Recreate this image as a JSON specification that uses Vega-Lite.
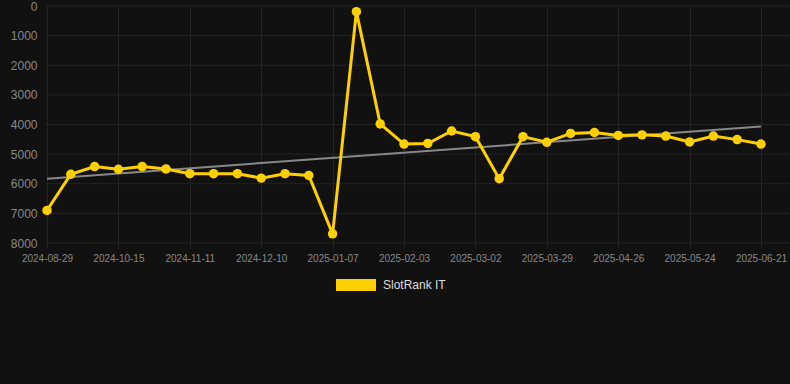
{
  "$schema": "https://vega.github.io/schema/vega-lite/v6.json",
  "autosize": "none",
  "width": 745,
  "height": 237,
  "padding": {"left": 45, "top": 6, "right": 0, "bottom": 141},
  "background": "#111111",
  "config": {
    "view": {"stroke": null},
    "font": "Liberation Sans",
    "axis": {"labelFont": "Liberation Sans", "gridColor": "#242424", "gridWidth": 1, "domain": false}
  },
  "datasets": {
    "rank": [
      {"date": "2024-08-29", "rank": 6900, "series": "SlotRank IT"},
      {"date": "2024-09-14", "rank": 5680, "series": "SlotRank IT"},
      {"date": "2024-09-30", "rank": 5420, "series": "SlotRank IT"},
      {"date": "2024-10-15", "rank": 5510, "series": "SlotRank IT"},
      {"date": "2024-10-24", "rank": 5420, "series": "SlotRank IT"},
      {"date": "2024-11-02", "rank": 5500, "series": "SlotRank IT"},
      {"date": "2024-11-11", "rank": 5660, "series": "SlotRank IT"},
      {"date": "2024-11-21", "rank": 5660, "series": "SlotRank IT"},
      {"date": "2024-11-30", "rank": 5660, "series": "SlotRank IT"},
      {"date": "2024-12-10", "rank": 5810, "series": "SlotRank IT"},
      {"date": "2024-12-19", "rank": 5660, "series": "SlotRank IT"},
      {"date": "2024-12-28", "rank": 5720, "series": "SlotRank IT"},
      {"date": "2025-01-07", "rank": 7690, "series": "SlotRank IT"},
      {"date": "2025-01-16", "rank": 190, "series": "SlotRank IT"},
      {"date": "2025-01-25", "rank": 3980, "series": "SlotRank IT"},
      {"date": "2025-02-03", "rank": 4660, "series": "SlotRank IT"},
      {"date": "2025-02-12", "rank": 4640, "series": "SlotRank IT"},
      {"date": "2025-02-21", "rank": 4220, "series": "SlotRank IT"},
      {"date": "2025-03-02", "rank": 4410, "series": "SlotRank IT"},
      {"date": "2025-03-11", "rank": 5830, "series": "SlotRank IT"},
      {"date": "2025-03-20", "rank": 4410, "series": "SlotRank IT"},
      {"date": "2025-03-29", "rank": 4600, "series": "SlotRank IT"},
      {"date": "2025-04-07", "rank": 4300, "series": "SlotRank IT"},
      {"date": "2025-04-17", "rank": 4270, "series": "SlotRank IT"},
      {"date": "2025-04-26", "rank": 4370, "series": "SlotRank IT"},
      {"date": "2025-05-05", "rank": 4350, "series": "SlotRank IT"},
      {"date": "2025-05-15", "rank": 4390, "series": "SlotRank IT"},
      {"date": "2025-05-24", "rank": 4590, "series": "SlotRank IT"},
      {"date": "2025-06-02", "rank": 4390, "series": "SlotRank IT"},
      {"date": "2025-06-12", "rank": 4510, "series": "SlotRank IT"},
      {"date": "2025-06-21", "rank": 4660, "series": "SlotRank IT"}
    ],
    "trend": [
      {"date": "2024-08-29", "trend": 5830},
      {"date": "2025-06-21", "trend": 4070}
    ],
    "grid": [
      {"level": 0}, {"level": 1000}, {"level": 2000}, {"level": 3000}, {"level": 4000},
      {"level": 5000}, {"level": 6000}, {"level": 7000}, {"level": 8000}
    ]
  },
  "layer": [
    {
      "data": {"name": "grid"},
      "mark": {"type": "rule", "color": "#242424", "strokeWidth": 1},
      "encoding": {
        "y": {
          "field": "level", "type": "quantitative",
          "scale": {"domain": [0, 8000], "reverse": true},
          "axis": {"title": null, "format": "d", "values": [0,1000,2000,3000,4000,5000,6000,7000,8000], "labelColor": "#888888", "labelFontSize": 12, "ticks": false, "labelPadding": 8, "grid": false, "labelOverlap": false}
        }
      }
    },
    {
      "data": {"name": "trend"},
      "mark": {"type": "line", "color": "#888888", "strokeWidth": 2},
      "encoding": {
        "x": {
          "field": "date", "type": "ordinal", "sort": null,
          "scale": {
            "type": "point", "range": [2, 716], "padding": 0,
            "domain": ["2024-08-29","2024-09-14","2024-09-30","2024-10-15","2024-10-24","2024-11-02","2024-11-11","2024-11-21","2024-11-30","2024-12-10","2024-12-19","2024-12-28","2025-01-07","2025-01-16","2025-01-25","2025-02-03","2025-02-12","2025-02-21","2025-03-02","2025-03-11","2025-03-20","2025-03-29","2025-04-07","2025-04-17","2025-04-26","2025-05-05","2025-05-15","2025-05-24","2025-06-02","2025-06-12","2025-06-21"]
          },
          "axis": {
            "title": null, "labelAngle": 0,
            "values": ["2024-08-29", "2024-10-15", "2024-11-11", "2024-12-10", "2025-01-07", "2025-02-03", "2025-03-02", "2025-03-29", "2025-04-26", "2025-05-24", "2025-06-21"],
            "labelColor": "#888888", "labelFontSize": 10, "tickColor": "#242424", "tickSize": 5, "labelPadding": 5, "grid": true, "labelOverlap": false
          }
        },
        "y": {
          "field": "trend", "type": "quantitative",
          "scale": {"domain": [0, 8000], "reverse": true},
          "axis": {"title": null, "format": "d", "values": [0,1000,2000,3000,4000,5000,6000,7000,8000], "labelColor": "#888888", "labelFontSize": 12, "ticks": false, "labelPadding": 8, "grid": false, "labelOverlap": false}
        }
      }
    },
    {
      "data": {"name": "rank"},
      "mark": {"type": "line", "strokeWidth": 3, "point": {"filled": true, "size": 90, "opacity": 1}},
      "encoding": {
        "x": {"field": "date", "type": "ordinal", "sort": null},
        "y": {
          "field": "rank", "type": "quantitative",
          "scale": {"domain": [0, 8000], "reverse": true},
          "axis": {"title": null, "format": "d", "values": [0,1000,2000,3000,4000,5000,6000,7000,8000], "labelColor": "#888888", "labelFontSize": 12, "ticks": false, "labelPadding": 8, "grid": false, "labelOverlap": false}
        },
        "color": {
          "field": "series", "type": "nominal",
          "scale": {"range": ["#FFD000"]},
          "legend": {
            "title": null, "orient": "none", "legendX": 291, "legendY": 259,
            "symbolType": "M-1,-0.3H1V0.3H-1Z", "symbolSize": 1600, "symbolStrokeWidth": 0,
            "labelColor": "#dddddd", "labelFontSize": 12, "labelFont": "Liberation Sans", "labelOffset": 7
          }
        }
      }
    }
  ]
}
